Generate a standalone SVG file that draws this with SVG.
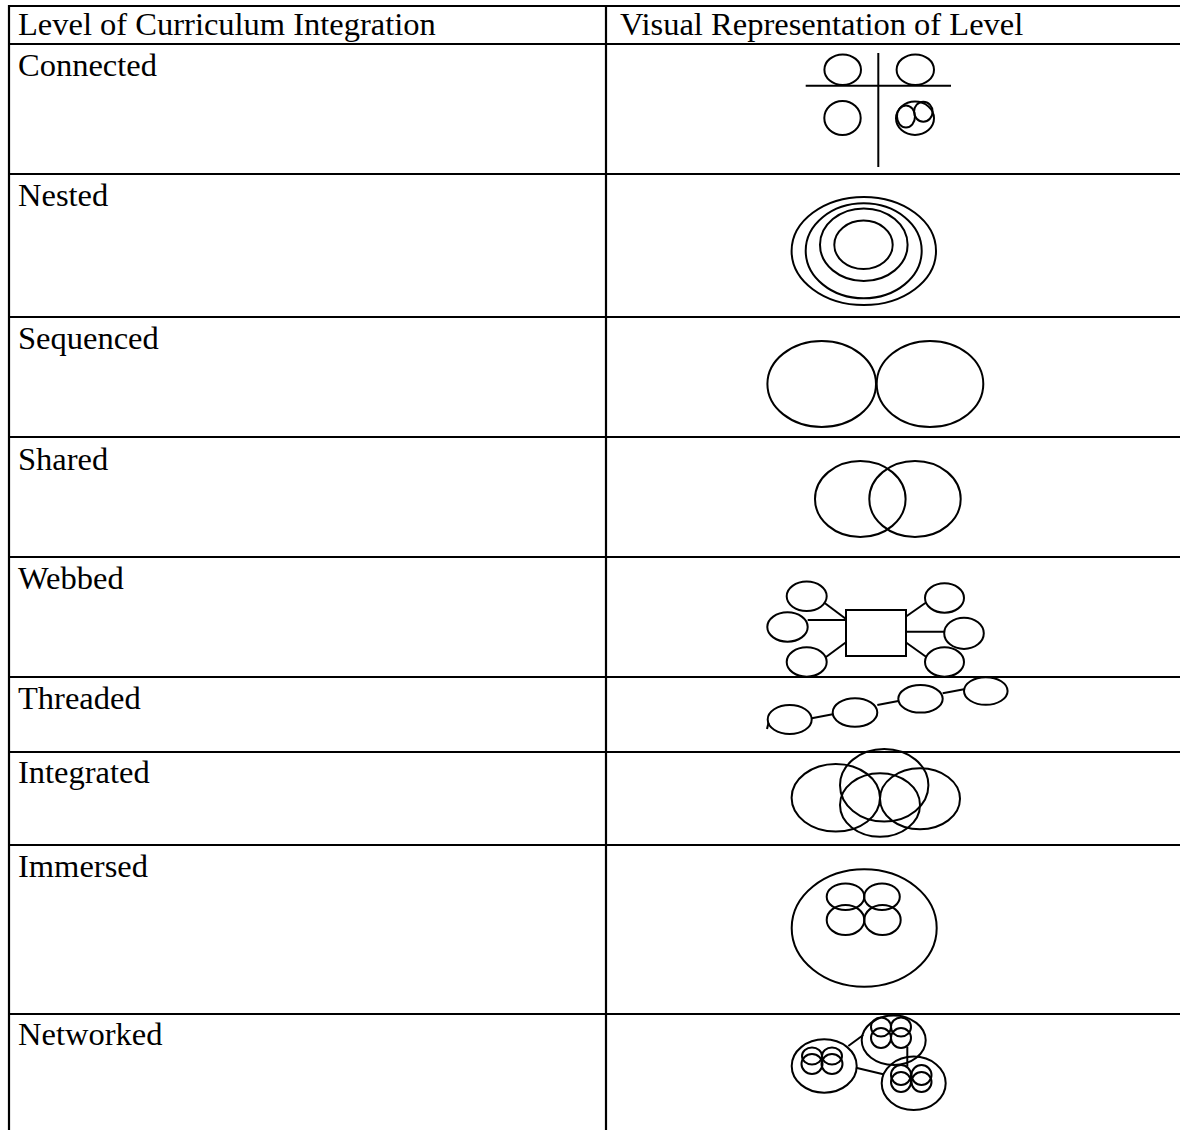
<svg xmlns="http://www.w3.org/2000/svg" width="1180" height="1130" viewBox="0 0 1180 1130">
<style>
.t{font-family:"Liberation Serif","Times New Roman",serif;font-size:32.5px;fill:#000}
.g{fill:#fff;stroke:#000;stroke-width:2}
.n{fill:none;stroke:#000;stroke-width:2}
.l{stroke:#000;stroke-width:2}
.b{stroke:#000;stroke-width:2.2}
</style>
<rect width="1180" height="1130" fill="#fff"/>
<g id="table">
<line class="b" x1="9" y1="6" x2="1180" y2="6"/>
<line class="b" x1="9" y1="44" x2="1180" y2="44"/>
<line class="b" x1="9" y1="174" x2="1180" y2="174"/>
<line class="b" x1="9" y1="317" x2="1180" y2="317"/>
<line class="b" x1="9" y1="437" x2="1180" y2="437"/>
<line class="b" x1="9" y1="557" x2="1180" y2="557"/>
<line class="b" x1="9" y1="677" x2="1180" y2="677"/>
<line class="b" x1="9" y1="752" x2="1180" y2="752"/>
<line class="b" x1="9" y1="845" x2="1180" y2="845"/>
<line class="b" x1="9" y1="1014" x2="1180" y2="1014"/>
<line class="b" x1="9" y1="5" x2="9" y2="1130"/>
<line class="b" x1="606" y1="5" x2="606" y2="1130"/>
</g>
<g id="labels">
<text class="t" x="18" y="35">Level of Curriculum Integration</text>
<text class="t" x="620" y="35">Visual Representation of Level</text>
<text class="t" x="18" y="76">Connected</text>
<text class="t" x="18" y="206">Nested</text>
<text class="t" x="18" y="349">Sequenced</text>
<text class="t" x="18" y="470">Shared</text>
<text class="t" x="18" y="589">Webbed</text>
<text class="t" x="18" y="709">Threaded</text>
<text class="t" x="18" y="783">Integrated</text>
<text class="t" x="18" y="877">Immersed</text>
<text class="t" x="18" y="1045">Networked</text>
</g>
<g id="connected">
<line class="l" x1="878.3" y1="53" x2="878.3" y2="167"/>
<line class="l" x1="805.7" y1="85.7" x2="951" y2="85.7"/>
<ellipse class="n" cx="842.7" cy="69.7" rx="18.3" ry="15.3"/>
<ellipse class="n" cx="915.3" cy="69.7" rx="18.7" ry="15.3"/>
<ellipse class="n" cx="842.5" cy="118" rx="18.2" ry="17"/>
<ellipse class="n" cx="915" cy="118.3" rx="19" ry="16.7"/>
<ellipse class="n" cx="906" cy="116.5" rx="9" ry="11"/>
<ellipse class="n" cx="923.3" cy="111.7" rx="9.3" ry="10"/>
</g>
<g id="nested">
<ellipse class="n" cx="863.8" cy="251" rx="72.2" ry="54"/>
<ellipse class="n" cx="863.7" cy="250.8" rx="58" ry="47.5"/>
<ellipse class="n" cx="863.8" cy="244.7" rx="43.8" ry="36.3"/>
<ellipse class="n" cx="863.5" cy="244.8" rx="29.2" ry="24.2"/>
</g>
<g id="sequenced">
<ellipse class="n" cx="821.7" cy="384" rx="54.3" ry="43"/>
<ellipse class="n" cx="930" cy="384" rx="53.3" ry="43"/>
</g>
<g id="shared">
<ellipse class="n" cx="860.3" cy="499" rx="45.3" ry="38"/>
<ellipse class="n" cx="915" cy="499" rx="45.7" ry="38"/>
</g>
<g id="webbed">
<line class="l" x1="825" y1="603.3" x2="846" y2="619"/>
<line class="l" x1="807.7" y1="620" x2="846" y2="620"/>
<line class="l" x1="846" y1="642.3" x2="825.7" y2="657.3"/>
<line class="l" x1="905.7" y1="616.7" x2="925.7" y2="602.7"/>
<line class="l" x1="905.7" y1="631.7" x2="944.3" y2="631.7"/>
<line class="l" x1="905.7" y1="642.3" x2="926.7" y2="657.3"/>
<rect class="g" x="846" y="610" width="60" height="46"/>
<ellipse class="n" cx="806.7" cy="596.3" rx="20" ry="14.7"/>
<ellipse class="n" cx="787.5" cy="627" rx="20.2" ry="14.7"/>
<ellipse class="n" cx="806.7" cy="662" rx="20" ry="14.7"/>
<ellipse class="n" cx="944.5" cy="598" rx="19.5" ry="14.7"/>
<ellipse class="n" cx="964" cy="633.3" rx="19.8" ry="15.6"/>
<ellipse class="n" cx="944.5" cy="662" rx="19.5" ry="14.7"/>
</g>
<g id="threaded">
<line class="l" x1="811.7" y1="718.3" x2="832.7" y2="714.3"/>
<line class="l" x1="877.3" y1="705" x2="898.3" y2="701"/>
<line class="l" x1="942.7" y1="693.3" x2="964" y2="689.3"/>
<line class="l" x1="768.5" y1="723" x2="767" y2="729"/>
<ellipse class="n" cx="789.7" cy="719.5" rx="22" ry="14.5"/>
<ellipse class="n" cx="855" cy="712.5" rx="22.3" ry="14.2"/>
<ellipse class="n" cx="920.5" cy="698.8" rx="22.2" ry="13.8"/>
<ellipse class="n" cx="985.8" cy="691" rx="21.8" ry="13.8"/>
</g>
<g id="integrated">
<ellipse class="n" cx="835.8" cy="797.8" rx="44.2" ry="33.8"/>
<ellipse class="n" cx="884.2" cy="785.3" rx="44.2" ry="36.3"/>
<ellipse class="n" cx="880" cy="805" rx="40" ry="31.7"/>
<ellipse class="n" cx="920" cy="798.8" rx="40" ry="30.5"/>
</g>
<g id="immersed">
<ellipse class="n" cx="864.2" cy="928" rx="72.5" ry="58.7"/>
<ellipse class="n" cx="845.5" cy="896.7" rx="18.8" ry="13.3"/>
<ellipse class="n" cx="882" cy="896.7" rx="17.8" ry="13.3"/>
<ellipse class="n" cx="845.5" cy="920" rx="18.8" ry="15"/>
<ellipse class="n" cx="882.5" cy="920" rx="18.2" ry="15"/>
</g>
<g id="networked">
<line class="l" x1="848.3" y1="1046" x2="863.3" y2="1035"/>
<line class="l" x1="856" y1="1067.7" x2="883.3" y2="1074.3"/>
<line class="l" x1="907.3" y1="1046.7" x2="907.3" y2="1066.7"/>
<ellipse class="n" cx="824.2" cy="1066" rx="32.5" ry="26.7"/>
<ellipse class="n" cx="812" cy="1056" rx="10" ry="8.5"/>
<ellipse class="n" cx="832" cy="1056" rx="10" ry="8.5"/>
<ellipse class="n" cx="812" cy="1064" rx="10.5" ry="10"/>
<ellipse class="n" cx="832" cy="1064" rx="10.5" ry="10"/>
<ellipse class="n" cx="893.7" cy="1040.3" rx="32" ry="24.7"/>
<ellipse class="n" cx="881" cy="1027" rx="10" ry="9.5"/>
<ellipse class="n" cx="901" cy="1027" rx="10" ry="9.5"/>
<ellipse class="n" cx="881" cy="1038" rx="10" ry="10"/>
<ellipse class="n" cx="901" cy="1038" rx="10" ry="10"/>
<ellipse class="n" cx="913.7" cy="1083.3" rx="32" ry="26.7"/>
<ellipse class="n" cx="901" cy="1075" rx="10" ry="10"/>
<ellipse class="n" cx="921.5" cy="1075" rx="10" ry="10"/>
<ellipse class="n" cx="901" cy="1082" rx="10" ry="10"/>
<ellipse class="n" cx="921.5" cy="1082" rx="10" ry="10"/>
</g>
</svg>
